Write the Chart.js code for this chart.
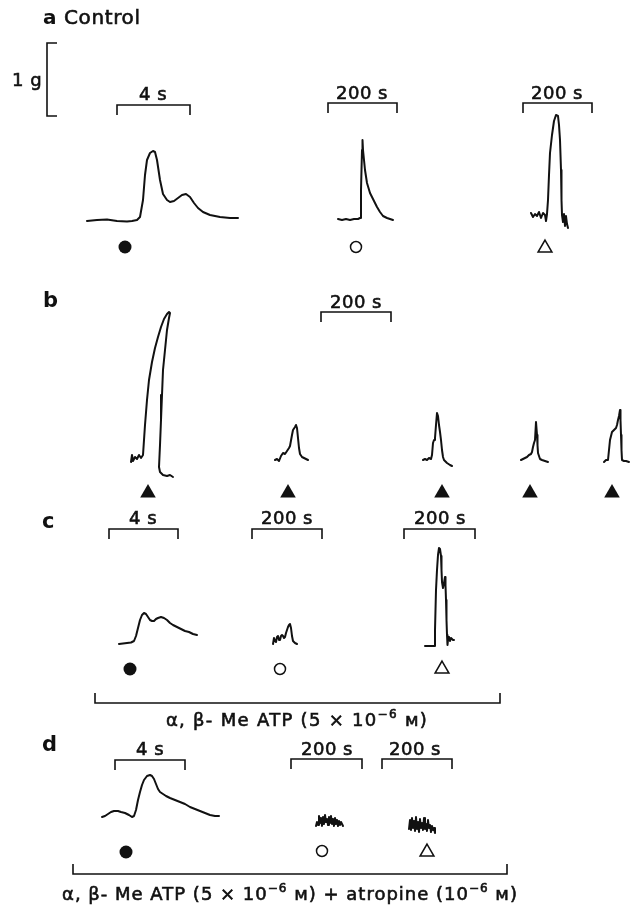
<!DOCTYPE html>
<html>
<head>
<meta charset="utf-8">
<script src="https://cdn.jsdelivr.net/npm/chart.js@4/dist/chart.umd.min.js"></script>
<style>
  html, body { margin: 0; padding: 0; background: #fff; }
  #wrap { width: 631px; height: 909px; }
</style>
</head>
<body>
<div id="wrap"><canvas id="fig" width="631" height="909"></canvas></div>
<script>
// tension traces: [time offset, tension above baseline]
const traceA1 = [[0,0],[10,1],[20,1.5],[30,0],[40,-0.5],[45,0],[50,1],[53,4],[56,21],[58,46],[60,61],[63,68],[66,70],[68,69],[70,61],[73,41],[76,27],[80,21],[83,19],[87,20],[91,23],[95,26],[99,27],[103,24],[107,18],[111,13],[116,9],[123,6],[133,4],[143,3],[151,3]];
const traceA2 = [[0,0],[4,-1],[8,0],[12,-1],[16,0],[20,0],[22,1],[23,29],[24,69],[24.5,79],[25,69],[27,49],[29,36],[32,26],[36,18],[39,12],[42,7],[45,3],[49,1],[52,0],[55,-1]];
const traceA3 = [[0,2],[2,-2],[4,1],[6,-1],[8,3],[10,-3],[12,2],[14,0],[15,-6],[16,1],[17,15],[18,40],[19,62],[21,80],[23,94],[25,100],[27,99],[28,90],[29,75],[30,45],[30.5,15],[31,0],[32,-7],[33,1],[34,-11],[35,-1],[36,-9],[37,-13]];

const traceB1 = [[0,-2],[1,5],[2,-1],[4,3],[6,1],[8,5],[10,2],[12,5],[13,20],[14,35],[16,60],[18,80],[21,98],[24,112],[27,123],[30,133],[33,141],[36,146],[38,148],[39,147],[38,142],[36,130],[34,110],[32,90],[31,65],[30,40],[29,15],[28,-7],[29,-12],[32,-15],[36,-16],[39,-15],[42,-17]];
const traceB2 = [[0,0],[2,1],[4,-1],[6,4],[8,7],[10,6],[12,9],[14,12],[15,14],[17,25],[18,30],[20,33],[21,35],[22,32],[23,22],[24,12],[25,6],[27,3],[29,2],[31,1],[33,0]];
const traceB3 = [[0,0],[2,1],[4,0],[6,2],[8,1],[9,5],[10,17],[11,20],[12,22],[13,35],[14,47],[15,44],[16,35],[17,28],[18,20],[19,10],[20,3],[21,0],[24,-3],[27,-5],[29,-6]];
const traceB4 = [[0,0],[2,1],[4,2],[6,3],[8,5],[10,6],[11,8],[12,13],[13,17],[14,20],[15,38],[16,25],[16.5,15],[17,7],[19,1],[21,0],[24,-1],[27,-2]];
const traceB5 = [[0,0],[2,2],[4,2],[5,12],[6,22],[7,26],[8,30],[10,32],[12,34],[13,37],[14,42],[15,46],[16,52],[16.5,42],[17,27],[17.5,12],[18,2],[20,1],[22,1],[25,0]];

const traceC1 = [[0,0],[4,0.5],[8,1],[12,1.5],[15,3],[17,8],[19,16],[21,24],[23,29],[25,31],[27,30],[29,27],[31,24],[33,23],[35,23],[37,25],[39,26],[42,27],[45,26],[48,24],[51,21],[54,19],[58,17],[62,15],[66,13],[70,12],[74,10],[78,9]];
const traceC2 = [[0,0],[1,6],[2,3],[3,2],[4,7],[5,8],[6,4],[7,4],[8,8],[9,9],[10,8],[11,6],[12,7],[13,11],[14,14],[15,17],[16,19],[17,20],[18,16],[19,8],[20,3],[22,1],[24,0]];
const traceC3 = [[0,0],[3,0],[6,0],[9,0],[10,1],[10,16],[10.5,36],[11,56],[12,76],[13,91],[14,98],[15,97],[16,90],[16.5,76],[17,64],[18,58],[19,63],[20,69],[20.5,61],[21,46],[21.5,26],[22,11],[22.5,1],[23,6],[24,9],[25,5],[26,8],[27,7],[28,6],[29,6]];

const traceD1 = [[0,0],[3,1],[6,3],[9,5],[12,6],[16,6],[19,5],[23,4],[27,2],[30,0],[32,1],[34,7],[36,17],[38,25],[40,32],[42,37],[45,41],[48,42],[50,41],[52,38],[54,33],[56,28],[58,25],[61,23],[64,21],[68,19],[73,17],[78,15],[83,13],[88,10],[93,8],[98,6],[103,4],[108,2],[113,1],[117,1]];
const traceD2 = [[0,0],[1,4],[2,1],[3,10],[4,3],[5,8],[6,0],[7,9],[8,2],[9,11],[10,4],[11,7],[12,1],[13,9],[14,3],[15,10],[16,2],[17,7],[18,0],[19,8],[20,2],[21,6],[22,0],[23,5],[24,1],[25,4],[27,0]];
const traceD3 = [[0,0],[1,9],[2,-1],[3,11],[4,1],[5,8],[6,-2],[7,12],[8,0],[9,7],[10,-3],[11,10],[12,1],[13,6],[14,-1],[15,11],[16,0],[17,5],[18,-2],[19,9],[20,1],[21,4],[22,-3],[23,3],[24,-1],[25,1],[26,-4]];

// where each trace starts on the page: [trace, x0, baseline]
const TRACES = [
  [traceA1, 87, 221], [traceA2, 338, 219], [traceA3, 531, 215],
  [traceB1, 131, 460], [traceB2, 275, 460], [traceB3, 423, 460], [traceB4, 521, 460], [traceB5, 604, 462],
  [traceC1, 119, 644], [traceC2, 273, 644], [traceC3, 425, 646],
  [traceD1, 102, 817], [traceD2, 316, 826], [traceD3, 409, 829]
];

// stimulus symbols
const FILLED_CIRCLES = [[125, 247], [130, 669], [126, 852]];
const OPEN_CIRCLES = [[356, 247], [280, 669], [322, 851]];
const OPEN_TRIANGLES = [[545, 248], [442, 669], [427, 852]];
const FILLED_TRIANGLES = [[148, 493], [288, 493], [442, 493], [530, 493], [612, 493]];

// time bars [x1, x2, y], tension bar [x, y1, y2], drug bars [x1, x2, y]
const TIME_BARS = [[117,190,105],[328,397,103],[523,592,103],[321,391,312],[109,178,529],[252,322,529],[404,475,529],[115,185,760],[291,362,759],[382,452,759]];
const TENSION_BAR = [47, 43, 116];
const DRUG_BARS = [[95,500,703],[73,507,874]];

const INK = '#111';
const FONT = '"DejaVu Sans", "Liberation Sans", sans-serif';

// text: x, y (baseline), align, size, letter spacing, parts
const LABELS = [
  { x: 43, y: 24, align: 'left', size: 20, sp: 0.6, parts: [['a', 'b'], [' Control']] },
  { x: 12, y: 86, align: 'left', size: 18, sp: 0.5, parts: [['1 g']] },
  { x: 153, y: 100, align: 'center', size: 18, sp: 0.5, parts: [['4 s']] },
  { x: 362, y: 99, align: 'center', size: 18, sp: 0.5, parts: [['200 s']] },
  { x: 557, y: 99, align: 'center', size: 18, sp: 0.5, parts: [['200 s']] },
  { x: 43, y: 307, align: 'left', size: 21, sp: 0, parts: [['b', 'b']] },
  { x: 356, y: 308, align: 'center', size: 18, sp: 0.5, parts: [['200 s']] },
  { x: 42, y: 528, align: 'left', size: 21, sp: 0, parts: [['c', 'b']] },
  { x: 143, y: 524, align: 'center', size: 18, sp: 0.5, parts: [['4 s']] },
  { x: 287, y: 524, align: 'center', size: 18, sp: 0.5, parts: [['200 s']] },
  { x: 440, y: 524, align: 'center', size: 18, sp: 0.5, parts: [['200 s']] },
  { x: 297, y: 726, align: 'center', size: 18, sp: 1.3, parts: [['α, β- Me ATP (5 × 10'], ['−6', 'sup'], [' м)']] },
  { x: 42, y: 751, align: 'left', size: 21, sp: 0, parts: [['d', 'b']] },
  { x: 150, y: 755, align: 'center', size: 18, sp: 0.5, parts: [['4 s']] },
  { x: 327, y: 755, align: 'center', size: 18, sp: 0.5, parts: [['200 s']] },
  { x: 415, y: 755, align: 'center', size: 18, sp: 0.5, parts: [['200 s']] },
  { x: 290, y: 900, align: 'center', size: 18, sp: 1, parts: [['α, β- Me ATP (5 × 10'], ['−6', 'sup'], [' м) + atropine (10'], ['−6', 'sup'], [' м)']] }
];

function partFont(size, style) {
  if (style === 'b') return 'bold ' + size + 'px ' + FONT;
  if (style === 'sup') return Math.round(size * 0.68) + 'px ' + FONT;
  return size + 'px ' + FONT;
}

const textPlugin = {
  id: 'figText',
  afterDatasetsDraw(chart) {
    const ctx = chart.ctx;
    const xs = chart.scales.x, ys = chart.scales.y;
    ctx.save();
    ctx.fillStyle = INK;
    ctx.strokeStyle = INK;
    ctx.lineWidth = 0.6;
    ctx.textBaseline = 'alphabetic';
    ctx.textAlign = 'left';
    LABELS.forEach(lab => {
      ctx.letterSpacing = lab.sp + 'px';
      let total = 0;
      const widths = lab.parts.map(p => {
        ctx.font = partFont(lab.size, p[1]);
        const w = ctx.measureText(p[0]).width;
        total += w;
        return w;
      });
      let px = xs.getPixelForValue(lab.x);
      const py = ys.getPixelForValue(lab.y);
      if (lab.align === 'center') px -= total / 2;
      lab.parts.forEach((p, i) => {
        ctx.font = partFont(lab.size, p[1]);
        const dy = p[1] === 'sup' ? -lab.size * 0.42 : 0;
        ctx.fillText(p[0], px, py + dy);
        if (p[1] !== 'b') ctx.strokeText(p[0], px, py + dy); // heavier print look
        px += widths[i];
      });
    });
    ctx.restore();
  }
};

const datasets = [];

TRACES.forEach(([trace, x0, base]) => {
  datasets.push({
    data: trace.map(([t, v]) => ({ x: x0 + t, y: base - v })),
    showLine: true, borderColor: INK, borderWidth: 2, pointRadius: 0,
    borderJoinStyle: 'round', borderCapStyle: 'round', tension: 0
  });
});

TIME_BARS.forEach(([x1, x2, y]) => {
  datasets.push({
    data: [{ x: x1, y: y + 10 }, { x: x1, y: y }, { x: x2, y: y }, { x: x2, y: y + 10 }],
    showLine: true, borderColor: INK, borderWidth: 1.6, pointRadius: 0
  });
});

DRUG_BARS.forEach(([x1, x2, y]) => {
  datasets.push({
    data: [{ x: x1, y: y - 10 }, { x: x1, y: y }, { x: x2, y: y }, { x: x2, y: y - 10 }],
    showLine: true, borderColor: INK, borderWidth: 1.6, pointRadius: 0
  });
});

datasets.push({
  data: [{ x: TENSION_BAR[0] + 10, y: TENSION_BAR[1] }, { x: TENSION_BAR[0], y: TENSION_BAR[1] },
         { x: TENSION_BAR[0], y: TENSION_BAR[2] }, { x: TENSION_BAR[0] + 10, y: TENSION_BAR[2] }],
  showLine: true, borderColor: INK, borderWidth: 1.6, pointRadius: 0
});

const toPts = arr => arr.map(([x, y]) => ({ x, y }));
datasets.push({ data: toPts(FILLED_CIRCLES), pointStyle: 'circle', pointRadius: 6.5, backgroundColor: INK, borderColor: INK, borderWidth: 0 });
datasets.push({ data: toPts(OPEN_CIRCLES), pointStyle: 'circle', pointRadius: 5.5, backgroundColor: '#fff', borderColor: INK, borderWidth: 1.5 });
datasets.push({ data: toPts(OPEN_TRIANGLES), pointStyle: 'triangle', pointRadius: 8, backgroundColor: '#fff', borderColor: INK, borderWidth: 1.5 });
datasets.push({ data: toPts(FILLED_TRIANGLES), pointStyle: 'triangle', pointRadius: 9, backgroundColor: INK, borderColor: INK, borderWidth: 0 });

new Chart(document.getElementById('fig'), {
  type: 'scatter',
  data: { datasets: datasets },
  options: {
    responsive: false,
    devicePixelRatio: 1,
    animation: false,
    layout: { padding: 0, autoPadding: false },
    plugins: { legend: { display: false }, tooltip: { enabled: false } },
    scales: {
      x: { type: 'linear', min: 0, max: 631, display: false },
      y: { type: 'linear', min: 0, max: 909, reverse: true, display: false }
    },
    elements: { point: { hoverRadius: 0 } }
  },
  plugins: [textPlugin]
});
</script>
</body>
</html>
